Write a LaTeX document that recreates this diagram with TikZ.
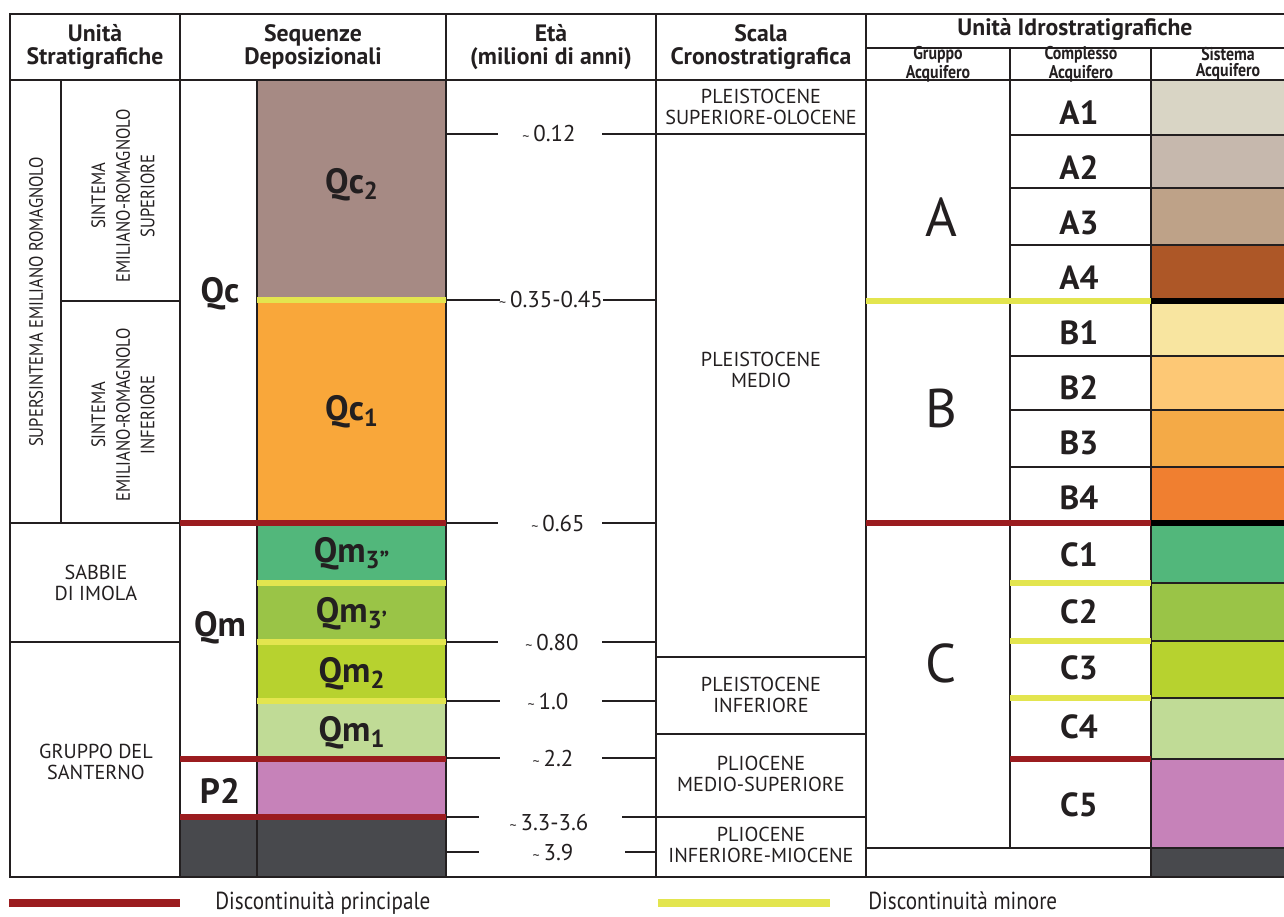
\documentclass[tikz,border=0pt]{standalone}
\usepackage{fontspec}
\setmainfont{PT Sans}
\newfontfamily\narrowfont[FakeStretch=0.86]{PT Sans}
\usetikzlibrary{positioning}

\definecolor{ink}{HTML}{231F20}
\definecolor{discred}{HTML}{9B1C1F}
\definecolor{discyel}{HTML}{E3E54F}
\definecolor{qctwo}{HTML}{A68A84}
\definecolor{qcone}{HTML}{F9A73A}
\definecolor{qmthreeb}{HTML}{52B77B}
\definecolor{qmthreea}{HTML}{9AC447}
\definecolor{qmtwo}{HTML}{B7D22F}
\definecolor{qmone}{HTML}{C0DB96}
\definecolor{ptwo}{HTML}{C682B9}
\definecolor{basegray}{HTML}{48494D}
\definecolor{aone}{HTML}{D9D5C5}
\definecolor{atwo}{HTML}{C6B8AD}
\definecolor{athree}{HTML}{BEA288}
\definecolor{afour}{HTML}{AD5727}
\definecolor{bone}{HTML}{F8E5A0}
\definecolor{btwo}{HTML}{FDC875}
\definecolor{bthree}{HTML}{F4AA47}
\definecolor{bfour}{HTML}{F07F30}

\newcommand{\approxmark}{{\fontsize{8}{8}\selectfont\textasciitilde}\,}

\tikzset{
  rule/.style={line width=1.1pt, ink},
  major disc/.style={line width=3.4pt, discred},
  minor disc/.style={line width=3.2pt, discyel},
  hdr/.style={font=\fontsize{13.5}{13}\selectfont\bfseries, align=center,
              text=ink, inner sep=0},
  subhdr/.style={font=\narrowfont\fontsize{10.5}{9.2}\selectfont\bfseries, align=center,
                 text=ink, inner sep=0},
}

\begin{document}
\begin{tikzpicture}[x=0.02cm, y=-0.02cm,
      vtext/.style={font=\narrowfont\fontsize{11}{14}\selectfont, align=center,
                    text=ink, inner sep=0, rotate=90},
      ctext/.style={font=\fontsize{11.5}{12}\selectfont, align=center, text=ink, inner sep=0},
      chrono/.style={font=\fontsize{11.5}{11.5}\selectfont, align=center, text=ink, inner sep=0},
      age/.style={font=\fontsize{13}{13}\selectfont, text=ink, inner sep=0},
      seqlbl/.style={font=\fontsize{20}{20}\selectfont\bfseries, text=ink, inner sep=0},
      cplx/.style={font=\fontsize{19}{19}\selectfont\bfseries, text=ink, inner sep=0},
      grp/.style={font=\fontsize{31}{31}\selectfont, text=ink, inner sep=0},
      legtext/.style={font=\narrowfont\fontsize{14}{15}\selectfont, text=ink, inner sep=0},
    ]
    \useasboundingbox (0,0) rectangle (1284,916);

    % Sequenze deposizionali: colour fills
    \foreach \ya/\yb/\col in {80/300/qctwo, 300/523/qcone, 523/583/qmthreeb,
        583/642/qmthreea, 642/701/qmtwo, 701/759/qmone, 759/817/ptwo, 817/877/basegray}
      \fill[\col] (257,\ya) rectangle (446,\yb);
    \fill[basegray] (180,817) rectangle (257,877);

    % Sistema acquifero: colour fills
    \foreach \ya/\yb/\col in {80/135/aone, 135/188/atwo, 188/245/athree, 245/301/afour,
        301/356/bone, 356/410/btwo, 410/467/bthree, 467/523/bfour,
        523/583/qmthreeb, 583/641/qmthreea, 641/698/qmtwo, 698/759/qmone,
        759/848/ptwo, 848/877/basegray}
      \fill[\col] (1151,\ya) rectangle (1284,\yb);

    % Table frame
    \draw[rule] (1284,14) -- (10,14) -- (10,877) -- (1284,877);
    \draw[rule] (10,80) -- (1284,80);
    \draw[rule] (866,48) -- (1284,48);
    \foreach \x in {180,446,656,866}
      \draw[rule] (\x,14) -- (\x,877);
    \draw[rule] (257,80) -- (257,877);
    \draw[rule] (1010,48) -- (1010,848);
    \draw[rule] (1151,48) -- (1151,877);

    % Unita stratigrafiche rows
    \draw[rule] (61,80) -- (61,523);
    \draw[rule] (61,301) -- (180,301);
    \draw[rule] (10,523) -- (180,523);
    \draw[rule] (10,642) -- (180,642);

    % Scala cronostratigrafica rows
    \foreach \y in {134,657,734,817}
      \draw[rule] (656,\y) -- (866,\y);

    % Complesso / sistema rows
    \foreach \y in {135,188,245,356,410,467}
      \draw[rule] (1010,\y) -- (1284,\y);
    \foreach \y in {583,641,698,759}
      \draw[rule] (1151,\y) -- (1284,\y);
    \draw[rule] (866,848) -- (1284,848);
    \draw[line width=3pt, black] (1151,301) -- (1284,301);
    \draw[line width=3pt, black] (1151,523) -- (1284,523);

    % Discontinuities
    \foreach \y in {523,759,817}
      \draw[major disc] (180,\y) -- (446,\y);
    \draw[major disc] (866,523) -- (1151,523);
    \draw[major disc] (1010,759) -- (1151,759);
    \foreach \y in {300,583,642,701}
      \draw[minor disc] (257,\y) -- (446,\y);
    \draw[minor disc] (866,301) -- (1151,301);
    \foreach \y in {583,641,698}
      \draw[minor disc] (1010,\y) -- (1151,\y);

    % Header
    \node[hdr] (h-strat) at (95,47) {Unità\\Stratigrafiche};
    \node[hdr] (h-seq) at (313,47) {Sequenze\\Deposizionali};
    \node[hdr] (h-eta) at (551,47) {Età\\(milioni di anni)};
    \node[hdr] (h-scala) at (761,47) {Scala\\Cronostratigrafica};
    \node[hdr] (h-idro) at (1075,29) {Unità Idrostratigrafiche};
    \node[subhdr] (h-gruppo) at (938,64) {Gruppo\\Acquifero};
    \node[subhdr] (h-compl) at (1081,64) {Complesso\\Acquifero};
    \node[subhdr] (h-sist) at (1228,64) {Sistema\\Acquifero};

    % Unita stratigrafiche
    \node[vtext] (supersint) at (36,302) {SUPERSINTEMA EMILIANO ROMAGNOLO};
    \node[vtext] (sint-sup) at (123,196) {SINTEMA\\EMILIANO-ROMAGNOLO\\SUPERIORE};
    \node[vtext] (sint-inf) at (123,415) {SINTEMA\\EMILIANO-ROMAGNOLO\\INFERIORE};
    \node[ctext] (sabbie) at (96,583) {SABBIE\\DI IMOLA};
    \node[ctext] (santerno) at (96,762) {GRUPPO DEL\\SANTERNO};

    % Sequenze deposizionali
    \node[seqlbl] (qc) at (220,294) {Qc};
    \node[seqlbl] (qm) at (220,628) {Qm};
    \node[seqlbl] (p2) at (220,791) {P2};
    \foreach \y/\lab/\nm in {185/Qc\textsubscript{2}/qc2, 412/Qc\textsubscript{1}/qc1,
        554/Qm\textsubscript{3”}/qm3b, 614/Qm\textsubscript{3’}/qm3a,
        674/Qm\textsubscript{2}/qm2, 733/Qm\textsubscript{1}/qm1}
      \node[seqlbl] (\nm) at (352,\y) {\lab};

    % Eta: ticks and values
    \foreach \y/\ty/\lab/\xa/\xb/\xc [count=\i] in {134/134/0.12/498/602/549,
        300/300/0.35-0.45/500/603/551, 523/523/0.65/498/602/558,
        642/642/0.80/498/602/552, 701/701/1.0/500/602/548,
        758/758/2.2/500/602/553, 817/822/3.3-3.6/479/622/549,
        852/852/3.9/479/625/553} {
      \draw[rule] (446,\y) -- (\xa,\y);
      \draw[rule] (\xb,\y) -- (656,\y);
      \node[age] (age-\i) at (\xc,\ty) {\approxmark\lab};
    }

    % Scala cronostratigrafica
    \node[chrono] (c-sup) at (761,107) {PLEISTOCENE\\SUPERIORE-OLOCENE};
    \node[chrono] (c-med) at (761,370) {PLEISTOCENE\\MEDIO};
    \node[chrono] (c-inf) at (761,695) {PLEISTOCENE\\INFERIORE};
    \node[chrono] (c-plio) at (761,774) {PLIOCENE\\MEDIO-SUPERIORE};
    \node[chrono] (c-mio) at (761,845) {PLIOCENE\\INFERIORE-MIOCENE};

    % Gruppo acquifero
    \node[grp] (g-a) at (941,217) {A};
    \node[grp] (g-b) at (941,408) {B};
    \node[grp] (g-c) at (941,663) {C};

    % Complesso acquifero
    \foreach \y/\lab in {113/A1, 168/A2, 223/A3, 278/A4, 333/B1, 388/B2, 443/B3,
        498/B4, 555/C1, 612/C2, 668/C3, 727/C4, 805/C5}
      \node[cplx] (cx-\lab) at (1079,\y) {\lab};

    % Legend
    \draw[major disc, line width=4pt] (9,903) -- (180,903);
    \node[legtext, anchor=base west] (leg-major) at (215,909) {Discontinuità principale};
    \draw[minor disc, line width=4pt] (658,903) -- (830,903);
    \node[legtext, anchor=base west] (leg-minor) at (868,909) {Discontinuità minore};
  \end{tikzpicture}
\end{document}
